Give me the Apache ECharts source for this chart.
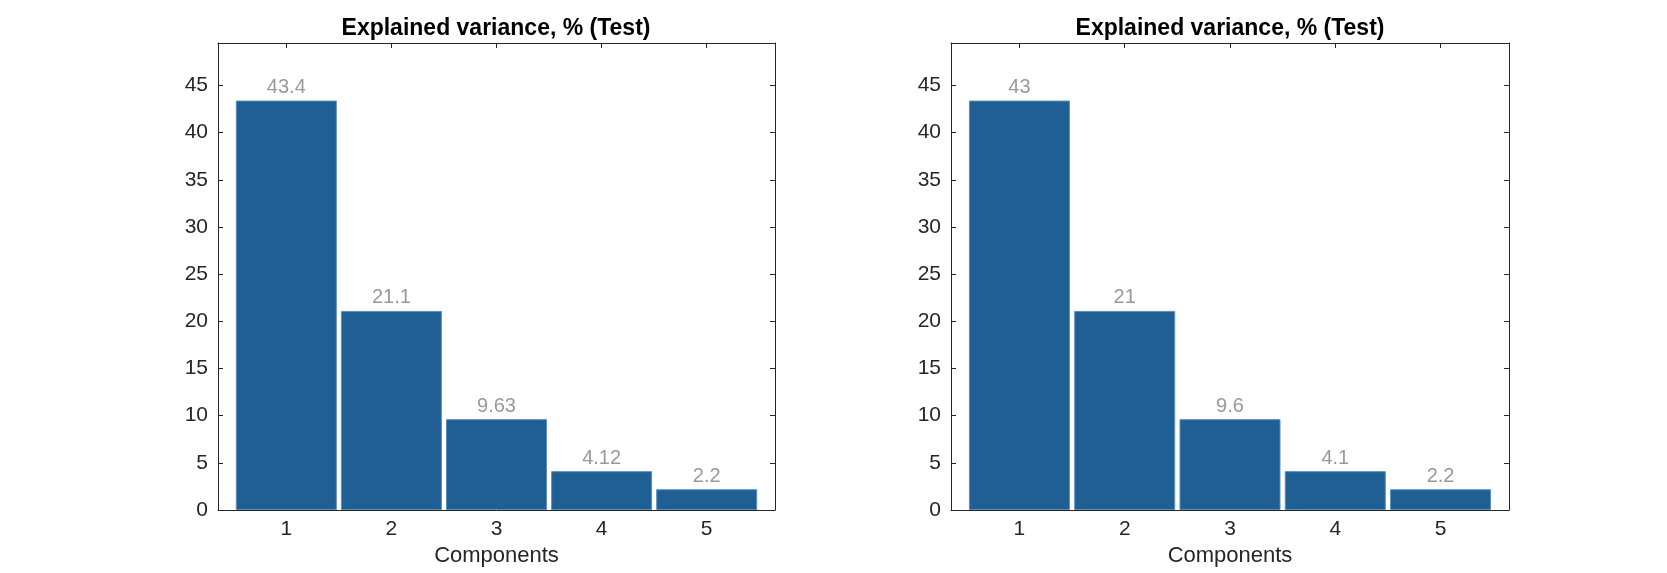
<!DOCTYPE html>
<html>
<head>
<meta charset="utf-8">
<script src="https://cdn.jsdelivr.net/npm/echarts@6/dist/echarts.min.js"></script>
<style>
html,body{margin:0;padding:0;background:#fff;}
#chart{width:1667px;height:573px;}
</style>
</head>
<body>
<div id="chart"></div>
<script>
// ---- data ----
const categories = [1, 2, 3, 4, 5];
const valuesLeft = [43.4, 21.1, 9.63, 4.12, 2.2];
const valuesRight = [43.4, 21.1, 9.63, 4.12, 2.2];
const yTicks = [0, 5, 10, 15, 20, 25, 30, 35, 40, 45];
const titleText = 'Explained variance, % (Test)';
const xName = 'Components';
const leftSigFigs = 3;
const rightSigFigs = 2;

const FONT = '"Liberation Sans", Arial, Helvetica, sans-serif';
const AXIS_COLOR = '#262626';
const BAR_COLOR = '#1f5f94';

const chart = echarts.init(document.getElementById('chart'), null, {renderer: 'canvas'});

const grids = [
  {left: 218, top: 43, width: 557, height: 467},
  {left: 951, top: 43, width: 558, height: 467}
];

function isInt(v) { return Math.abs(v - Math.round(v)) < 1e-6; }

const xAxes = [];
const yAxes = [];
grids.forEach((g, i) => {
  xAxes.push({
    type: 'value', gridIndex: i, position: 'bottom', min: 0.35, max: 5.65, splitNumber: 5,
    name: xName, nameLocation: 'middle', nameGap: 30,
    nameTextStyle: {fontFamily: FONT, fontSize: 22, color: AXIS_COLOR},
    axisLine: {show: true, onZero: false, lineStyle: {color: AXIS_COLOR, width: 1}},
    axisTick: {show: true, inside: true, length: 5, lineStyle: {color: AXIS_COLOR},
      customValues: categories},
    axisLabel: {show: true, margin: 9, fontFamily: FONT, fontSize: 21, color: AXIS_COLOR,
      customValues: categories,
      formatter: v => isInt(v) && categories.includes(Math.round(v)) ? String(Math.round(v)) : ''},
    splitLine: {show: false}
  });
  xAxes.push({
    type: 'value', gridIndex: i, position: 'top', min: 0.35, max: 5.65, splitNumber: 5,
    axisLine: {show: true, onZero: false, lineStyle: {color: AXIS_COLOR, width: 1}},
    axisTick: {show: true, inside: true, length: 5, lineStyle: {color: AXIS_COLOR},
      customValues: categories},
    axisLabel: {show: false},
    splitLine: {show: false}
  });
  yAxes.push({
    type: 'value', gridIndex: i, position: 'left', min: 0, max: 49.5,
    axisLine: {show: true, onZero: false, lineStyle: {color: AXIS_COLOR, width: 1}},
    axisTick: {show: true, inside: true, length: 5, lineStyle: {color: AXIS_COLOR},
      customValues: yTicks},
    axisLabel: {show: true, margin: 10, fontFamily: FONT, fontSize: 21, color: AXIS_COLOR,
      customValues: yTicks},
    splitLine: {show: false}
  });
  yAxes.push({
    type: 'value', gridIndex: i, position: 'right', min: 0, max: 49.5,
    axisLine: {show: true, onZero: false, lineStyle: {color: AXIS_COLOR, width: 1}},
    axisTick: {show: true, inside: true, length: 5, lineStyle: {color: AXIS_COLOR},
      customValues: yTicks},
    axisLabel: {show: false},
    splitLine: {show: false}
  });
});

function makeSeries(values, gridIdx, sig) {
  return {
    type: 'bar',
    xAxisIndex: gridIdx * 2,
    yAxisIndex: gridIdx * 2,
    data: categories.map((c, k) => [c, values[k]]),
    barWidth: 101,
    itemStyle: {color: BAR_COLOR, borderColor: '#5a8dbd', borderWidth: 1},
    label: {
      show: true, position: 'top', distance: 3,
      fontFamily: FONT, fontSize: 20, color: '#999999',
      formatter: p => String(parseFloat(p.value[1].toPrecision(sig)))
    },
    silent: true,
    animation: false
  };
}

const option = {
  backgroundColor: '#ffffff',
  animation: false,
  title: [
    {text: titleText, left: 496, top: 17, textAlign: 'center', padding: 0,
      textStyle: {fontFamily: FONT, fontSize: 23, fontWeight: 'bold', color: '#000'}},
    {text: titleText, left: 1230, top: 17, textAlign: 'center', padding: 0,
      textStyle: {fontFamily: FONT, fontSize: 23, fontWeight: 'bold', color: '#000'}}
  ],
  grid: grids,
  xAxis: xAxes,
  yAxis: yAxes,
  series: [
    makeSeries(valuesLeft, 0, leftSigFigs),
    makeSeries(valuesRight, 1, rightSigFigs)
  ]
};
chart.setOption(option);
</script>
</body>
</html>
